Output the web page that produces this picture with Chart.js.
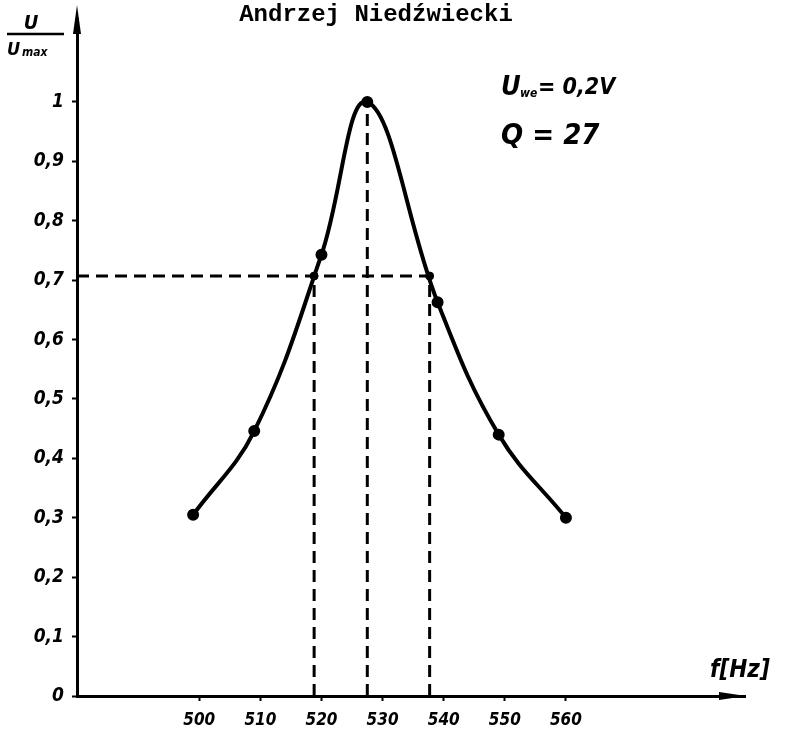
<!DOCTYPE html>
<html>
<head>
<meta charset="utf-8">
<script src="https://cdn.jsdelivr.net/npm/chart.js@4"></script>
<style>
  body { margin: 0; background: #fff; }
  #wrap { width: 785px; height: 735px; }
</style>
</head>
<body>
<div id="wrap"><canvas id="resonance" width="785" height="735"></canvas></div>
<script>
// measured points, f [Hz] and U/Umax
const freq = [499, 509, 520, 527.5, 539, 549, 560];
const ratio = [0.305, 0.446, 0.743, 1.0, 0.663, 0.44, 0.3];

// half-power level and its frequencies
const halfPower = 0.707;
const fLow = 518.8, fRes = 527.5, fHigh = 537.7;

const xTicks = [500, 510, 520, 530, 540, 550, 560];
const yTicks = [0, 0.1, 0.2, 0.3, 0.4, 0.5, 0.6, 0.7, 0.8, 0.9, 1];
const yTickLabels = ['0','0,1','0,2','0,3','0,4','0,5','0,6','0,7','0,8','0,9','1'];

const xMin = 480, xMax = 589.3;
const yMin = 0, yMax = 1.139;

const handFamily = '"DejaVu Sans Condensed", "DejaVu Sans"';
const hand = { family: handFamily, style: 'italic', weight: 'bold' };

const dashed = {
  borderColor: '#000',
  borderWidth: 3,
  borderDash: [12, 7],
  pointRadius: 0,
  fill: false,
  tension: 0,
  order: 2
};

const curveData = freq.map((f, i) => ({ x: f, y: ratio[i] }));

const datasets = [
  Object.assign({ data: [{ x: xMin, y: halfPower }, { x: fHigh, y: halfPower }] }, dashed),
  Object.assign({ data: [{ x: fLow, y: 0 }, { x: fLow, y: halfPower }] }, dashed),
  Object.assign({ data: [{ x: fRes, y: 0 }, { x: fRes, y: 1 }] }, dashed),
  Object.assign({ data: [{ x: fHigh, y: 0 }, { x: fHigh, y: halfPower }] }, dashed),
  {
    data: [{ x: fLow, y: halfPower }, { x: fHigh, y: halfPower }],
    showLine: false,
    pointRadius: 4,
    pointBackgroundColor: '#000',
    pointBorderColor: '#000',
    order: 0
  },
  {
    data: curveData,
    borderColor: '#000',
    backgroundColor: '#000',
    borderWidth: 4,
    pointRadius: 4,
    pointHoverRadius: 4,
    tension: 0.4,
    fill: false,
    order: 1
  }
];

const decorations = {
  id: 'decorations',
  beforeDraw(chart) {
    const ctx = chart.ctx;
    ctx.save();
    ctx.fillStyle = '#fff';
    ctx.fillRect(0, 0, chart.width, chart.height);
    ctx.restore();
  },
  afterDraw(chart) {
    const ctx = chart.ctx;
    const area = chart.chartArea;
    ctx.save();
    ctx.fillStyle = '#000';
    ctx.strokeStyle = '#000';

    // arrow heads
    ctx.beginPath();
    ctx.moveTo(area.left, 5);
    ctx.lineTo(area.left - 4, 34);
    ctx.lineTo(area.left + 4, 34);
    ctx.closePath();
    ctx.fill();
    ctx.beginPath();
    ctx.moveTo(area.right + 1, area.bottom);
    ctx.lineTo(area.right - 26, area.bottom - 4);
    ctx.lineTo(area.right - 26, area.bottom + 4);
    ctx.closePath();
    ctx.fill();

    // title
    ctx.font = 'bold 24px "Liberation Mono"';
    ctx.textAlign = 'center';
    ctx.textBaseline = 'middle';
    ctx.fillText('Andrzej Niedźwiecki', 376, 15);

    // y axis label U / Umax
    ctx.font = 'italic bold 20px ' + handFamily;
    ctx.fillText('U', 31, 24);
    ctx.lineWidth = 2.5;
    ctx.beginPath();
    ctx.moveTo(7, 34);
    ctx.lineTo(64, 34);
    ctx.stroke();
    ctx.textAlign = 'left';
    ctx.font = 'italic bold 18px ' + handFamily;
    ctx.fillText('U', 7, 50);
    ctx.font = 'italic bold 12px ' + handFamily;
    ctx.fillText('max', 22, 53);

    // x axis label
    ctx.font = 'italic bold 24px ' + handFamily;
    ctx.fillText('f[Hz]', 710, 671);

    // notes
    ctx.font = 'italic bold 27px ' + handFamily;
    ctx.fillText('U', 501, 88);
    ctx.font = 'italic bold 12px ' + handFamily;
    ctx.fillText('we', 520, 94);
    ctx.font = 'italic bold 23px ' + handFamily;
    ctx.fillText('= 0,2V', 538, 88);
    ctx.font = 'italic bold 29px ' + handFamily;
    ctx.fillText('Q = 27', 501, 136);
    ctx.restore();
  }
};

const config = {
  type: 'line',
  data: { datasets: datasets },
  options: {
    responsive: false,
    maintainAspectRatio: false,
    animation: false,
    layout: { padding: { left: 0, right: 40, top: 9, bottom: 0 } },
    plugins: {
      legend: { display: false },
      title: { display: false },
      tooltip: { enabled: false }
    },
    scales: {
      x: {
        type: 'linear',
        min: xMin,
        max: xMax,
        afterBuildTicks: (scale) => { scale.ticks = xTicks.map(v => ({ value: v })); },
        afterFit: (scale) => { scale.height = 39; },
        grid: { drawOnChartArea: false, drawTicks: true, tickLength: 5, tickWidth: 2, tickColor: '#000' },
        border: { display: true, color: '#000', width: 3 },
        ticks: {
          color: '#000',
          padding: 9,
          maxRotation: 0,
          font: Object.assign({ size: 17 }, hand),
          callback: (v) => String(v)
        }
      },
      y: {
        type: 'linear',
        min: yMin,
        max: yMax,
        afterBuildTicks: (scale) => { scale.ticks = yTicks.map(v => ({ value: v })); },
        afterFit: (scale) => { scale.width = 77; },
        grid: { drawOnChartArea: false, drawTicks: true, tickLength: 5, tickWidth: 2, tickColor: '#000' },
        border: { display: true, color: '#000', width: 3 },
        ticks: {
          color: '#000',
          padding: 8,
          font: Object.assign({ size: 19 }, hand),
          callback: (v, i) => yTickLabels[i]
        }
      }
    }
  },
  plugins: [decorations]
};

const resonanceChart = new Chart(document.getElementById('resonance'), config);
</script>
</body>
</html>
